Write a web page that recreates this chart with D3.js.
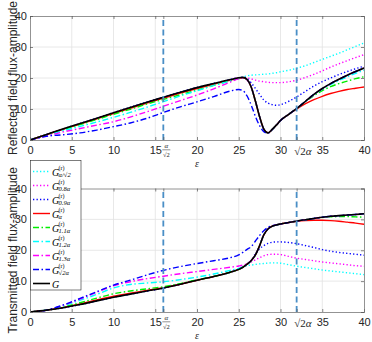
<!DOCTYPE html>
<html><head><meta charset="utf-8">
<script src="https://cdn.jsdelivr.net/npm/d3@7"></script>
<style>body{margin:0;background:#fff}svg{display:block}</style>
</head><body>
<script>
// ---------- data ----------
const alpha = 22.58;
const eps = [0,2,4,6,8,10,12,14,16,18,20,22,24,25,25.5,26,26.5,27,27.5,28,28.5,29,29.5,30,31,32,33,34,35,36,37,38,39,40];
const xTicks = [0,5,10,15,20,25,30,35,40];
const yTicks = [0,10,20,30,40];
const legendSubs = ["α/√2","0.8α","0.9α","α","1.1α","1.2α","1.3α","√2α",""];

// Reflected
const refS1 = [0,1.8,3.6,5.3,7.0,8.8,10.5,12.2,13.8,15.4,16.9,18.2,19.5,20.1,20.3,20.7,20.9,21.0,21.1,21.2,21.3,21.5,21.7,22.0,22.5,23.2,24.0,25.0,26.0,27.0,28.0,29.1,30.2,31.3];
const ref08 = [0,1.8,3.6,5.3,7.0,8.8,10.5,12.2,13.8,15.4,16.9,18.2,19.5,20.1,20.2,20.0,19.7,19.3,19.0,18.8,18.6,18.5,18.5,18.5,18.8,19.3,20.2,21.2,22.3,23.5,24.6,25.6,26.6,27.5];
const ref09 = [0,1.8,3.6,5.3,7.0,8.8,10.5,12.2,13.8,15.4,16.9,18.2,19.5,20.1,20.2,19.7,18.4,16.6,14.7,12.9,11.9,11.4,11.2,11.4,12.5,14.0,15.7,17.4,18.8,20.0,21.1,22.1,23.0,23.8];
const refA  = [0,1.75,3.5,5.15,6.8,8.55,10.2,11.9,13.5,15.1,16.6,18.0,19.3,20.0,20.1,19.5,17.0,12.5,7.5,3.5,2.3,3.4,4.8,6.3,8.3,10.1,11.7,13.0,14.1,15.0,15.7,16.3,16.7,17.1];
const ref11 = [0,1.7,3.4,5.0,6.6,8.3,9.9,11.6,13.1,14.6,16.1,17.6,19.1,19.8,20.1,19.5,17.0,12.5,7.5,3.5,2.3,3.4,4.8,6.3,8.3,10.3,12.4,14.3,15.9,17.2,18.2,19.0,19.8,20.4];
const ref12 = [0,1.5,3.0,4.4,5.8,7.3,8.9,10.6,12.4,14.2,15.9,17.6,19.1,19.9,20.1,19.5,17.0,12.5,7.5,3.5,2.3,3.4,4.8,6.3,8.3,10.3,12.5,14.6,16.4,17.9,19.2,20.4,21.5,22.5];
const ref13 = [0,1.3,2.6,3.7,4.8,5.9,7.4,9.1,10.9,12.7,14.5,16.5,18.7,19.8,20.0,19.4,17.0,12.5,7.5,3.5,2.3,3.4,4.8,6.3,8.3,10.3,12.5,14.7,16.6,18.2,19.6,20.9,22.1,23.2];
const refS2 = [0,1.2,1.7,2.3,3.2,4.3,5.5,7.0,8.9,10.7,12.3,14.0,15.8,16.3,15.9,14.2,11.2,7.6,4.6,2.7,2.2,3.4,4.8,6.3,8.3,10.3,12.5,14.7,16.6,18.2,19.6,20.9,22.1,23.2];
const refG  = [0,1.8,3.6,5.3,7.0,8.8,10.5,12.2,13.8,15.4,16.9,18.2,19.5,20.1,20.2,19.5,17.0,12.5,7.5,3.5,2.3,3.4,4.8,6.3,8.3,10.3,12.5,14.7,16.6,18.2,19.6,20.9,22.1,23.2];

// Transmitted
const traS1 = [0,0.6,1.4,2.4,3.6,4.8,5.8,6.8,7.8,9.0,10.3,11.5,12.9,13.8,14.5,15.0,15.2,15.4,15.6,15.7,15.85,15.9,15.9,15.8,15.3,14.8,14.4,14.0,13.6,13.3,13.0,12.7,12.4,12.1];
const tra08 = [0,0.6,1.4,2.4,3.6,4.8,5.8,6.8,7.8,9.0,10.3,11.5,12.9,13.8,14.5,15.5,16.2,16.9,17.6,18.2,18.6,18.7,18.7,18.6,18.0,17.4,17.0,16.6,16.2,15.9,15.6,15.3,15.0,14.8];
const tra09 = [0,0.6,1.4,2.4,3.6,4.8,5.8,6.8,7.8,9.0,10.3,11.5,12.9,13.8,14.5,15.5,16.7,18.9,20.5,21.5,22.2,22.6,22.7,22.7,22.5,22.1,21.5,20.9,20.2,19.7,19.3,19.0,18.7,18.4];
const traA  = [0,0.6,1.5,2.6,3.9,5.1,6.1,7.0,7.9,9.0,10.3,11.5,12.9,13.8,14.5,15.5,16.7,18.5,21.5,25.0,26.9,27.8,28.2,28.5,29.0,29.4,29.6,29.7,29.7,29.6,29.4,29.1,28.8,28.4];
const tra11 = [0,0.6,1.6,3.0,4.5,5.9,6.8,7.5,8.2,9.2,10.4,11.5,12.9,13.8,14.5,15.5,16.7,18.5,21.5,25.0,26.9,27.8,28.2,28.5,29.0,29.5,29.9,30.3,30.6,30.8,30.9,30.9,30.8,30.7];
const tra12 = [0,0.6,2.0,3.8,5.7,7.8,8.9,9.4,9.8,10.5,11.3,12.3,13.5,14.1,14.6,15.5,16.7,18.5,21.5,25.0,26.9,27.8,28.2,28.5,29.0,29.5,29.9,30.3,30.7,31.0,31.2,31.4,31.6,31.8];
const tra13 = [0,0.6,2.2,4.2,6.4,8.5,9.8,10.8,11.6,12.4,13.1,13.8,14.5,14.9,15.2,15.7,16.7,18.5,21.5,25.0,26.9,27.8,28.2,28.5,29.0,29.5,29.9,30.3,30.7,31.0,31.2,31.4,31.6,31.8];
const traS2 = [0,0.6,2.3,4.4,6.6,8.7,10.3,12.0,13.5,14.7,15.7,16.6,17.6,18.5,19.3,20.3,21.2,23.0,24.8,26.3,27.4,27.9,28.2,28.5,29.0,29.5,29.9,30.3,30.7,31.0,31.2,31.4,31.6,31.8];
const traG  = [0,0.6,1.4,2.4,3.6,4.8,5.8,6.8,7.8,9.0,10.3,11.5,12.9,13.8,14.5,15.5,16.7,18.5,21.5,25.0,26.9,27.8,28.2,28.5,29.0,29.5,29.9,30.3,30.7,31.0,31.2,31.4,31.6,31.8];

// ---------- styles ----------
const DOT = "1.3,2.2", DASHDOT = "6,2.5,1.5,2.5";
const seriesStyle = [
  {color:"#00ffff", dash:DOT},
  {color:"#ff00ff", dash:DOT},
  {color:"#0000ff", dash:DOT},
  {color:"#ff0000", dash:null},
  {color:"#00ee00", dash:DASHDOT},
  {color:"#00ffff", dash:DASHDOT},
  {color:"#ff00ff", dash:DASHDOT},
  {color:"#0000ff", dash:DASHDOT},
  {color:"#000000", dash:null}
];
const refData = [refS1,ref08,ref09,refA,ref11,ref12,ref13,refS2,refG];
const traData = [traS1,tra08,tra09,traA,tra11,tra12,tra13,traS2,traG];

const W = 372, H = 342;
const svg = d3.select("body").append("svg").attr("width",W).attr("height",H);
const x = d3.scaleLinear().domain([0,40]).range([30,364]);
const specials = [alpha/Math.SQRT2, Math.SQRT2*alpha];
const AX = "#262626";
const SANS = "'Liberation Sans', Arial, Helvetica, sans-serif";
const SERIF = "'Liberation Serif', 'DejaVu Serif', serif";

function drawPanel(idx, yBottom, yTop, data, title) {
  const y = d3.scaleLinear().domain([0,40]).range([yBottom, yTop]);
  const g = svg.append("g");
  // grid
  g.selectAll(null).data(xTicks.filter(v=>v>0&&v<40)).join("line")
    .attr("x1",d=>x(d)).attr("x2",d=>x(d)).attr("y1",y(0)).attr("y2",y(40))
    .attr("stroke","#e2e2e2").attr("stroke-width",0.8);
  g.selectAll(null).data(yTicks.filter(v=>v>0&&v<40)).join("line")
    .attr("x1",x(0)).attr("x2",x(40)).attr("y1",d=>y(d)).attr("y2",d=>y(d))
    .attr("stroke","#e2e2e2").attr("stroke-width",0.8);

  // curves
  const clipId = "clip"+idx;
  svg.append("clipPath").attr("id",clipId).append("rect")
    .attr("x",x(0)).attr("y",y(40)).attr("width",x(40)-x(0)).attr("height",y(0)-y(40));
  const line = d3.line().x((d,i)=>x(eps[i])).y(d=>y(d)).curve(d3.curveMonotoneX);
  const cg = g.append("g").attr("clip-path",`url(#${clipId})`);
  data.forEach((arr,k)=>{
    const s = seriesStyle[k];
    cg.append("path").attr("d",line(arr)).attr("fill","none")
      .attr("stroke",s.color).attr("stroke-width",k===8?1.6:1.4)
      .attr("stroke-dasharray",s.dash).attr("stroke-linejoin","round");
  });

  // vertical dashed lines
  g.selectAll(null).data(specials).join("line")
    .attr("x1",d=>x(d)).attr("x2",d=>x(d)).attr("y1",y(0)).attr("y2",y(40))
    .attr("stroke","#4a8fc6").attr("stroke-width",1.8).attr("stroke-dasharray","6,3.5");

  // axes
  const allX = xTicks.concat(specials);
  const ax = g.append("g").attr("transform",`translate(0,${y(0)})`)
    .call(d3.axisBottom(x).tickValues(allX).tickSize(-3).tickPadding(6.5)
      .tickFormat(d=>specials.includes(d)?"":d));
  const axT = g.append("g").attr("transform",`translate(0,${y(40)})`)
    .call(d3.axisTop(x).tickValues(allX).tickSize(-3).tickFormat(""));
  const ay = g.append("g").attr("transform",`translate(${x(0)},0)`)
    .call(d3.axisLeft(y).tickValues(yTicks).tickSize(-3).tickPadding(3));
  const ayR = g.append("g").attr("transform",`translate(${x(40)},0)`)
    .call(d3.axisRight(y).tickValues(yTicks).tickSize(-3).tickFormat(""));
  [ax,axT,ay,ayR].forEach(a=>{
    a.select(".domain").attr("stroke","#777").attr("stroke-width",0.8);
    a.selectAll(".tick line").attr("stroke","#555").attr("stroke-width",0.7);
    a.selectAll("text").attr("font-family",SANS).attr("font-size",11).attr("fill",AX);
  });

  // special tick labels
  const fx = x(specials[0]) + 3, by = y(0);
  g.append("text").attr("x",fx).attr("y",by+8).attr("text-anchor","middle")
    .attr("font-family",SERIF).attr("font-style","italic").attr("font-size",7).attr("fill",AX).text("α");
  g.append("line").attr("x1",fx-4).attr("x2",fx+4).attr("y1",by+9.8).attr("y2",by+9.8)
    .attr("stroke",AX).attr("stroke-width",0.5);
  g.append("text").attr("x",fx).attr("y",by+16.5).attr("text-anchor","middle")
    .attr("font-family",SERIF).attr("font-size",6.5).attr("fill",AX).text("√2");
  const t2 = g.append("text").attr("x",x(specials[1])-2.5).attr("y",by+14.6)
    .attr("font-family",SERIF).attr("font-size",11).attr("fill",AX);
  t2.append("tspan").text("√2");
  t2.append("tspan").attr("font-style","italic").text("α");

  // axis labels
  g.append("text").attr("x",(x(0)+x(40))/2).attr("y",by+27)
    .attr("text-anchor","middle").attr("font-family",SERIF).attr("font-style","italic")
    .attr("font-size",10).attr("fill",AX).text("ε");
  g.append("text").attr("transform",`translate(16.5,${(y(0)+y(40))/2}) rotate(-90)`)
    .attr("text-anchor","middle").attr("font-family",SANS).attr("font-size",12)
    .attr("fill",AX).text(title);
  return y;
}

drawPanel(0, 140, 16, refData, "Reflected field flux-amplitude");
drawPanel(1, 312, 188.5, traData, "Transmitted field flux-amplitude");

// ---------- legend ----------
const lg = svg.append("g");
lg.append("rect").attr("x",30.5).attr("y",160.5).attr("width",50.5).attr("height",129.5)
  .attr("fill","#fff").attr("stroke","#262626").attr("stroke-width",0.6);
legendSubs.forEach((sub,k)=>{
  const yc = 171.5 + k*14;
  const s = seriesStyle[k];
  lg.append("line").attr("x1",33).attr("x2",50).attr("y1",yc).attr("y2",yc)
    .attr("stroke",s.color).attr("stroke-width",k===8?1.6:1.4).attr("stroke-dasharray",s.dash);
  lg.append("text").attr("x",52).attr("y",yc+4.3).attr("font-family",SERIF)
    .attr("font-style","italic").attr("font-size",10).attr("fill","#000").text("G");
  if (sub) {
    lg.append("text").attr("x",58.6).attr("y",yc-1.6).attr("font-family",SERIF)
      .attr("font-size",6).attr("fill","#000").text("(r)");
    lg.append("text").attr("x",58.6).attr("y",yc+5.8).attr("font-family",SERIF)
      .attr("font-style","italic").attr("font-size",6.5).attr("fill","#000").text(sub);
  }
});
</script>
</body></html>
